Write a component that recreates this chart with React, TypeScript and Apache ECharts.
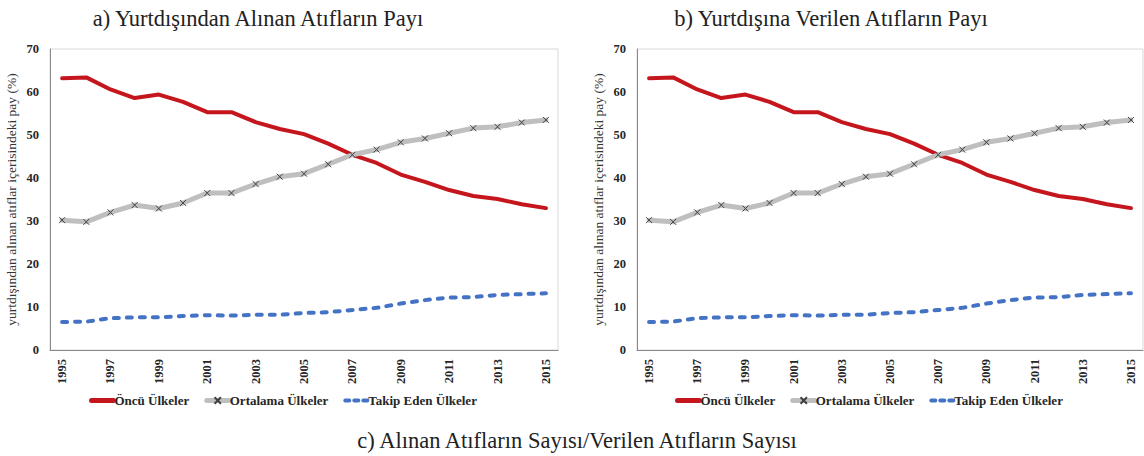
import React, { useEffect, useRef } from "react";
import * as echarts from "echarts";

const years = ["1995","1996","1997","1998","1999","2000","2001","2002","2003","2004","2005","2006","2007","2008","2009","2010","2011","2012","2013","2014","2015"];
const seriesNames = ["Öncü Ülkeler", "Ortalama Ülkeler", "Takip Eden Ülkeler"];

// Panel a) Yurtdışından Alınan Atıfların Payı
const oncuA = [63.2,63.4,60.6,58.6,59.4,57.7,55.3,55.3,53.0,51.4,50.2,48.0,45.4,43.5,40.8,39.1,37.2,35.8,35.1,33.9,33.0];
const ortalamaA = [30.2,29.8,32.0,33.7,32.9,34.2,36.5,36.5,38.6,40.3,41.0,43.2,45.4,46.6,48.3,49.2,50.4,51.6,51.9,52.9,53.5];
const takipA = [6.5,6.6,7.4,7.6,7.6,7.9,8.1,8.0,8.2,8.2,8.6,8.8,9.3,9.8,10.8,11.6,12.2,12.3,12.8,13.0,13.2];

// Panel b) Yurtdışına Verilen Atıfların Payı
const oncuB = [63.2,63.4,60.6,58.6,59.4,57.7,55.3,55.3,53.0,51.4,50.2,48.0,45.4,43.5,40.8,39.1,37.2,35.8,35.1,33.9,33.0];
const ortalamaB = [30.2,29.8,32.0,33.7,32.9,34.2,36.5,36.5,38.6,40.3,41.0,43.2,45.4,46.6,48.3,49.2,50.4,51.6,51.9,52.9,53.5];
const takipB = [6.5,6.6,7.4,7.6,7.6,7.9,8.1,8.0,8.2,8.2,8.6,8.8,9.3,9.8,10.8,11.6,12.2,12.3,12.8,13.0,13.2];

const titleA = "a) Yurtdışından Alınan Atıfların Payı";
const titleB = "b) Yurtdışına Verilen Atıfların Payı";
const titleC = "c) Alınan Atıfların Sayısı/Verilen Atıfların Sayısı";
const yAxisName = "yurtdışından alınan atıflar içerisindeki pay (%)";

const SERIF = "'Liberation Serif', 'DejaVu Serif', serif";
const RED = "#c4161c";
const GRAY = "#bfbfbf";
const BLUE = "#4472c4";

export default function App() {
  const ref = useRef<HTMLDivElement>(null);
  useEffect(() => {
    if (!ref.current) return;
    const chart = echarts.init(ref.current, undefined, { renderer: "svg" });
    const grids = [
      { left: 50, top: 49, width: 508, height: 301 },
      { left: 637, top: 49, width: 506, height: 301 },
    ];
    const xAxis = grids.map((_, i) => ({
      type: "category",
      gridIndex: i,
      data: years,
      boundaryGap: true,
      axisLine: { show: true, lineStyle: { color: "#898989", width: 1 } },
      axisTick: { show: false },
      axisLabel: {
        rotate: 90,
        interval: 1,
        margin: 9,
        fontFamily: SERIF,
        fontWeight: "bold",
        fontSize: 12.5,
        color: "#262626",
      },
      splitLine: { show: false },
    }));
    const yAxis = grids.map((_, i) => ({
      type: "value",
      gridIndex: i,
      min: 0,
      max: 70,
      interval: 10,
      name: yAxisName,
      nameLocation: "middle",
      nameGap: 32,
      nameTextStyle: { fontFamily: SERIF, fontSize: 13.5, color: "#333" },
      axisLine: { show: true, lineStyle: { color: "#898989", width: 1 } },
      axisTick: { show: false },
      axisLabel: {
        fontFamily: SERIF,
        fontWeight: "bold",
        fontSize: 12.5,
        color: "#262626",
        margin: 11,
      },
      splitLine: { show: false },
    }));
    const mk = (gi: number, d1: number[], d2: number[], d3: number[]) => [
      {
        name: seriesNames[0],
        type: "line",
        xAxisIndex: gi,
        yAxisIndex: gi,
        data: d1,
        symbol: "none",
        lineStyle: { color: RED, width: 4, cap: "round", join: "round" },
        itemStyle: { color: RED },
      },
      {
        name: seriesNames[1],
        type: "line",
        xAxisIndex: gi,
        yAxisIndex: gi,
        data: d2,
        symbol: "path://M0,0L10,10M10,0L0,10",
        symbolSize: 6,
        showAllSymbol: true,
        lineStyle: { color: GRAY, width: 5, cap: "round", join: "round" },
        itemStyle: { color: "none", borderColor: "#404040", borderWidth: 1 },
      },
      {
        name: seriesNames[2],
        type: "line",
        xAxisIndex: gi,
        yAxisIndex: gi,
        data: d3,
        symbol: "none",
        lineStyle: { color: BLUE, width: 4, type: [5, 8], cap: "round", join: "round" },
        itemStyle: { color: BLUE },
      },
    ];
    const legendData = [
      { name: seriesNames[0], itemStyle: { opacity: 0 }, lineStyle: { width: 5, cap: "round" } },
      { name: seriesNames[1], lineStyle: { width: 5 } },
      { name: seriesNames[2], itemStyle: { opacity: 0 }, lineStyle: { width: 4, type: [4, 5], cap: "round" } },
    ];
    const legendCommon = {
      data: legendData,
      top: 394,
      padding: 0,
      itemWidth: 22,
      itemHeight: 8,
      itemGap: 15,
      selectedMode: false,
      textStyle: { fontFamily: SERIF, fontWeight: "bold", fontSize: 13, color: "#262626", padding: [0, 0, 0, -4] },
    };
    const titleStyle = { fontFamily: SERIF, fontWeight: "normal", fontSize: 22.5, color: "#222" };
    chart.setOption({
      animation: false,
      backgroundColor: "#ffffff",
      grid: grids.map((g) => ({ ...g, show: true, borderColor: "#d9d9d9", borderWidth: 1, backgroundColor: "transparent" })),
      xAxis,
      yAxis,
      legend: [
        { ...legendCommon, left: 89 },
        { ...legendCommon, left: 675 },
      ],
      title: [
        { text: titleA, left: 253, top: 2, textAlign: "center", textStyle: titleStyle },
        { text: titleB, left: 826, top: 2, textAlign: "center", textStyle: titleStyle },
        { text: titleC, left: 572, top: 424, textAlign: "center", textStyle: titleStyle },
      ],
      series: [...mk(0, oncuA, ortalamaA, takipA), ...mk(1, oncuB, ortalamaB, takipB)],
    });
    return () => chart.dispose();
  }, []);
  return <div ref={ref} style={{ position: "absolute", left: 0, top: 0, width: 1144, height: 456 }} />;
}
